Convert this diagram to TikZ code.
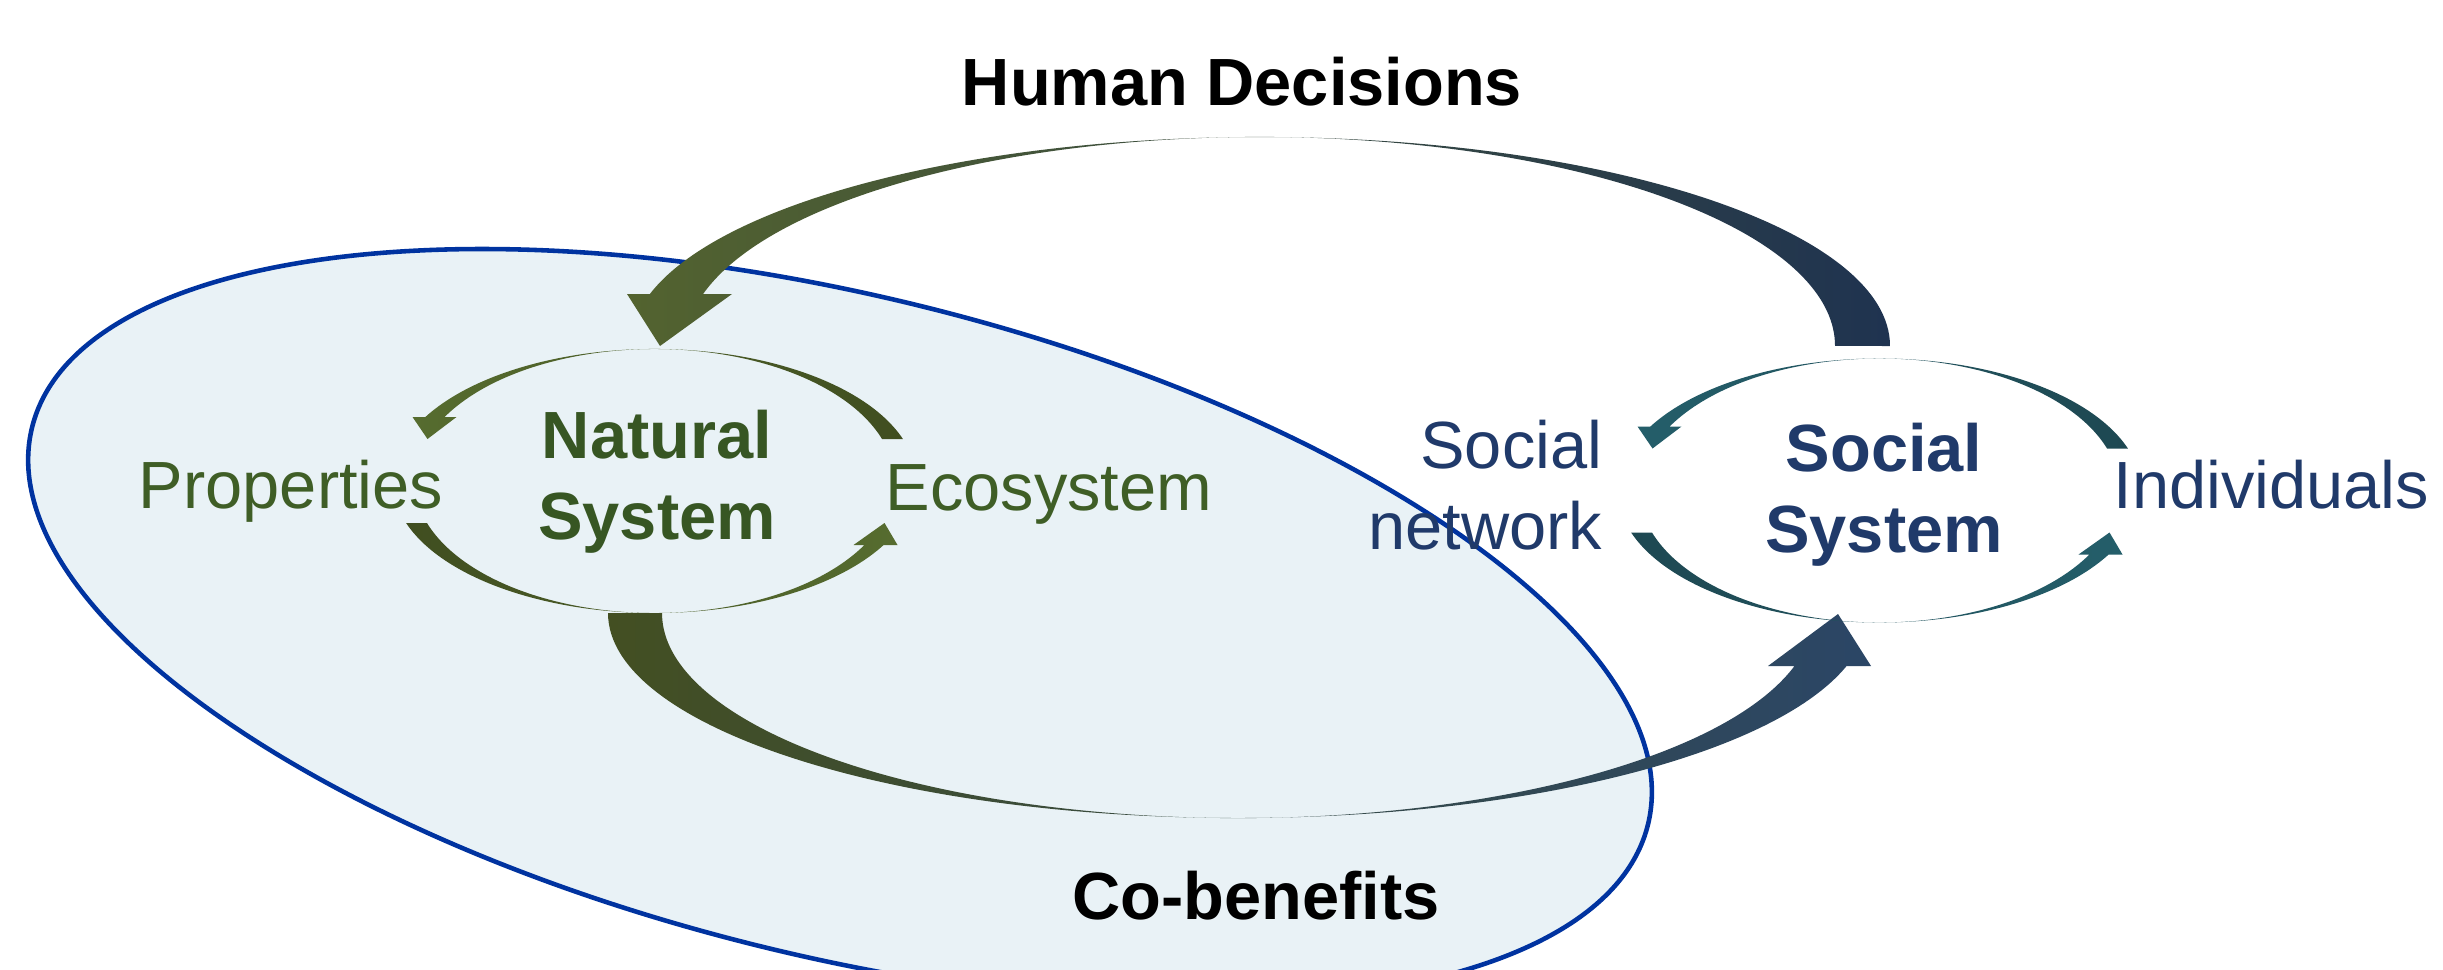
\documentclass[tikz,border=0pt]{standalone}
\usepackage{fontspec}
\setmainfont{Liberation Sans}
\usepackage{xcolor}
\usepackage{tikz}
\usetikzlibrary{positioning,calc}
\definecolor{natlight}{HTML}{566C2F}
\definecolor{natdark}{HTML}{404E20}
\definecolor{soclight}{HTML}{245E6A}
\definecolor{socdark}{HTML}{1E4852}
\definecolor{nattext}{HTML}{3F5E26}
\definecolor{natbold}{HTML}{375623}
\definecolor{soctext}{HTML}{203A6A}
\definecolor{decgreen}{HTML}{53632F}
\definecolor{decblue}{HTML}{1F3350}
\definecolor{bengreen}{HTML}{434F22}
\definecolor{benblue}{HTML}{2B4666}
\definecolor{zoneblue}{HTML}{0033A0}
\definecolor{zonefill}{HTML}{E9F2F6}
\tikzstyle{lbl} = [inner sep=0pt, font=\fontsize{19}{23}\selectfont]
\tikzstyle{title} = [inner sep=0pt, font=\fontsize{19}{23}\selectfont\bfseries]
% ciclo: #1 centro, #2 cor clara, #3 cor escura
\newcommand{\cyclearrows}[3]{
  \begin{scope}[shift={#1}]
    \shade[left color=#2, right color=#3]
      (2.484,0.42) arc[start angle=18.55, end angle=151, x radius=2.62, y radius=1.32]
      -- (-2.42,0.64) -- (-2.27,0.42) -- (-1.98,0.64) -- (-2.099,0.64)
      arc[start angle=151, end angle=18.55, x radius=2.40, y radius=1.32] -- cycle;
    \shade[left color=#3, right color=#2]
      (-2.484,-0.42) arc[start angle=198.55, end angle=331, x radius=2.62, y radius=1.32]
      -- (2.43,-0.64) -- (2.30,-0.42) -- (1.99,-0.64) -- (2.099,-0.64)
      arc[start angle=331, end angle=198.55, x radius=2.40, y radius=1.32] -- cycle;
  \end{scope}
}
\begin{document}
\begin{tikzpicture}
    \clip (0,0) rectangle (24.43,9.69);
    \fill[white] (0,0) rectangle (24.43,9.69);

    % Elipse
    \draw[zoneblue, line width=1.3pt, fill=zonefill, rotate around={-13.8:(8.40,3.43)}] (8.40,3.43) ellipse (8.32 and 3.30);

    % Decisoes
    \shade[left color=decgreen, right color=decblue]
      (18.90,6.23) arc[start angle=0, end angle=165.6, x radius=6.30, y radius=2.09]
      -- (6.27,6.75) -- (6.60,6.23) -- (7.32,6.75) -- (7.031,6.75)
      arc[start angle=165.6, end angle=0, x radius=5.75, y radius=2.09] -- cycle;

    % Co-beneficios
    \shade[left color=bengreen, right color=benblue]
      (6.08,3.56) arc[start angle=180, end angle=345, x radius=6.30, y radius=2.05]
      -- (18.71,3.03) -- (18.38,3.55) -- (17.68,3.03) -- (17.944,3.029)
      arc[start angle=345, end angle=180, x radius=5.76, y radius=2.05] -- cycle;

    % Ciclos
    \cyclearrows{(6.545,4.88)}{natlight}{natdark}
    \cyclearrows{(18.795,4.785)}{soclight}{socdark}

    % Etiquetas
    \node[title, text=natbold, align=center] (nat) at (6.57,4.87) {Natural\\System};
    \node[lbl, text=nattext, anchor=base east] (prop) at (4.44,4.61) {Properties};
    \node[lbl, text=nattext, anchor=base west] (eco) at (8.85,4.59) {Ecosystem};
    \node[title, text=soctext, align=center] (soc) at (18.84,4.745) {Social\\System};
    \node[lbl, text=soctext, align=right, anchor=east] (net) at (16.03,4.835) {Social\\network};
    \node[lbl, text=soctext, anchor=base west] (ind) at (21.13,4.61) {Individuals};
    \node[title, anchor=base] (hd) at (12.42,8.63) {Human Decisions};
    \node[title, anchor=base] (cb) at (12.56,0.50) {Co-benefits};
\end{tikzpicture}
\end{document}
